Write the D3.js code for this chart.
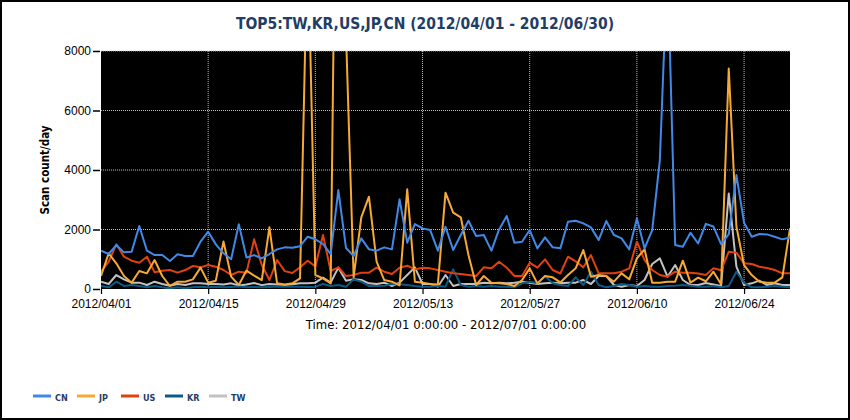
<!DOCTYPE html>
<html>
<head>
<meta charset="utf-8">
<script src="https://cdn.jsdelivr.net/npm/d3@7"></script>
<style>
  body { margin: 0; background: #fff; }
  svg { display: block; font-family: "DejaVu Sans Condensed", "Liberation Sans", sans-serif; }
</style>
</head>
<body>
<svg id="chart" width="850" height="420"></svg>
<script>
// chart data, one value per day 2012/04/01 .. 2012/06/30
const startDay = '2012/04/01'
const endDay = '2012/06/30'
const countries = ['CN', 'JP', 'US', 'KR', 'TW']
const colors = ['#4189e6', '#f7a935', '#e2400f', '#0b5a86', '#c2c2c2']

const cn = [1288, 1176, 1478, 1232, 1254, 2117, 1288, 1142, 1142, 941,
  1165, 1109, 1109, 1590, 1926, 1500, 1200, 1000, 2180, 1060,
  1140, 1030, 1176, 1333, 1400, 1390, 1440, 1758, 1670, 1512,
  1170, 3326, 1380, 1110, 1702, 1333, 1288, 1400, 1333, 3013,
  1557, 2184, 2038, 1982, 1288, 2094, 1310, 1814, 2296, 1781,
  1814, 1288, 2004, 2453, 1557, 1590, 1982, 1366, 1736, 1400,
  1366, 2262, 2296, 2206, 2072, 1646, 2285, 1814, 1702, 1333,
  2374, 1366, 1982, 4334, 11000, 1478, 1422, 1893, 1530, 2190,
  2100, 1510, 1840, 3830, 2229, 1758, 1848, 1836, 1758, 1669,
  1736]
const jp = [437, 1198, 862, 437, 213, 605, 526, 974, 437, 101,
  246, 246, 325, 717, 213, 280, 1600, 414, 134, 620,
  450, 300, 2072, 190, 150, 190, 358, 12000, 470, 358,
  190, 22000, 8600, 392, 2408, 3102, 918, 302, 246, 120,
  3349, 246, 213, 168, 150, 3237, 2565, 2408, 1142, 134,
  437, 213, 190, 168, 100, 302, 694, 190, 437, 392,
  220, 470, 694, 1310, 414, 470, 437, 246, 526, 325,
  1030, 1333, 213, 213, 246, 246, 952, 213, 380, 260,
  582, 160, 7414, 2100, 800, 470, 246, 213, 213, 392,
  2038]
const us = [582, 918, 1501, 1086, 952, 884, 1086, 560, 616, 638,
  549, 638, 773, 728, 806, 750, 638, 470, 582, 549,
  1669, 806, 302, 974, 600, 540, 730, 950, 760, 1814,
  605, 730, 437, 470, 549, 549, 717, 582, 504, 717,
  784, 660, 717, 694, 638, 582, 526, 504, 470, 437,
  728, 694, 918, 717, 437, 437, 884, 717, 997, 638,
  520, 1086, 930, 728, 1142, 526, 526, 526, 582, 694,
  1590, 974, 638, 470, 414, 582, 549, 549, 520, 470,
  700, 630, 1254, 1220, 862, 840, 750, 705, 638, 526,
  526]
const kr = [101, 56, 246, 101, 134, 101, 56, 101, 56, 22,
  56, 22, 56, 78, 56, 78, 60, 70, 80, 60,
  70, 60, 70, 80, 78, 78, 78, 70, 78, 168,
  100, 134, 78, 325, 246, 100, 100, 110, 168, 157,
  134, 100, 78, 78, 110, 78, 660, 134, 78, 100,
  78, 100, 78, 78, 56, 190, 246, 190, 437, 190,
  134, 100, 392, 134, 582, 134, 56, 100, 168, 134,
  78, 100, 78, 78, 100, 110, 134, 110, 78, 78,
  100, 56, 100, 580, 213, 56, 56, 78, 100, 78,
  56]
const tw = [246, 168, 470, 325, 213, 213, 134, 246, 168, 112,
  168, 134, 190, 190, 168, 168, 150, 190, 120, 150,
  200, 130, 170, 150, 134, 157, 190, 190, 213, 381,
  213, 717, 280, 325, 302, 190, 168, 213, 100, 213,
  470, 728, 168, 168, 78, 470, 100, 168, 168, 168,
  213, 190, 213, 190, 213, 246, 213, 168, 190, 213,
  190, 213, 213, 302, 168, 437, 437, 134, 78, 134,
  100, 302, 840, 1030, 414, 806, 302, 134, 134, 200,
  150, 100, 3214, 750, 134, 190, 280, 134, 190, 134,
  134]

const yTicks = [0, 2000, 4000, 6000, 8000]
const xTickLabels = ['2012/04/01', '2012/04/15', '2012/04/29', '2012/05/13', '2012/05/27', '2012/06/10', '2012/06/24']

const seriesValues = [cn, jp, us, kr, tw]
const drawOrder = [4, 3, 2, 1, 0]   // TW at the bottom, CN on top

const parseDay = d3.timeParse('%Y/%m/%d')
const fmtDay = d3.timeFormat('%Y/%m/%d')
const days = d3.timeDay.range(parseDay(startDay), d3.timeDay.offset(parseDay(endDay), 1))

const margin = { top: 51, left: 101, right: 60, bottom: 131 }
const width = 850, height = 420
const plotW = width - margin.left - margin.right
const plotH = height - margin.top - margin.bottom

const svg = d3.select('#chart')

// outer frame
svg.append('rect')
  .attr('x', 1).attr('y', 1)
  .attr('width', width - 2).attr('height', height - 2)
  .attr('fill', 'none').attr('stroke', '#000').attr('stroke-width', 2)

svg.append('text')
  .attr('x', 425).attr('y', 29)
  .attr('text-anchor', 'middle')
  .attr('font-size', '15.5px').attr('font-weight', 'bold')
  .attr('fill', '#1f3d66')
  .text('TOP5:TW,KR,US,JP,CN (2012/04/01 - 2012/06/30)')

const x = d3.scaleTime()
  .domain([parseDay(startDay), parseDay(endDay)])
  .range([0, plotW])
const y = d3.scaleLinear().domain([0, 8000]).range([plotH, 0])

const g = svg.append('g')
  .attr('transform', 'translate(' + margin.left + ',' + margin.top + ')')

g.append('rect')
  .attr('width', plotW).attr('height', plotH)
  .attr('fill', '#000')

g.append('clipPath').attr('id', 'plot-clip')
  .append('rect').attr('width', plotW).attr('height', plotH)

// dotted grid
g.selectAll('.hgrid')
  .data(yTicks.filter(d => d > 0))
  .enter().append('line')
  .attr('x1', 0).attr('x2', plotW)
  .attr('y1', d => y(d)).attr('y2', d => y(d))
  .attr('stroke', '#bdbdbd').attr('stroke-dasharray', '1,1')

g.selectAll('.vgrid')
  .data(xTickLabels.slice(1))
  .enter().append('line')
  .attr('x1', d => x(parseDay(d))).attr('x2', d => x(parseDay(d)))
  .attr('y1', 0).attr('y2', plotH)
  .attr('stroke', '#bdbdbd').attr('stroke-dasharray', '1,1')

const line = d3.line()
  .x((d, i) => x(days[i]))
  .y(d => y(d))

g.append('g').attr('clip-path', 'url(#plot-clip)')
  .selectAll('path')
  .data(drawOrder)
  .enter().append('path')
  .attr('d', i => line(seriesValues[i]))
  .attr('fill', 'none')
  .attr('stroke', i => colors[i])
  .attr('stroke-width', 2)
  .attr('stroke-linejoin', 'round')

// axes
const yAxis = g.append('g')
  .call(d3.axisLeft(y).tickValues(yTicks).tickFormat(d3.format('d')).tickSize(7).tickPadding(3))
yAxis.select('.domain').remove()
yAxis.selectAll('.tick line').attr('stroke-width', 1.5).attr('transform', 'translate(-1,0)')
yAxis.selectAll('text').attr('font-size', '12px').attr('fill', '#000')

const xAxis = g.append('g')
  .attr('transform', 'translate(0,' + plotH + ')')
  .call(d3.axisBottom(x).tickValues(xTickLabels.map(parseDay)).tickFormat(fmtDay).tickSize(5).tickPadding(5))
xAxis.select('.domain').remove()
xAxis.selectAll('.tick line').attr('stroke-width', 1.2)
xAxis.selectAll('text').attr('font-size', '12px').attr('fill', '#000')

svg.append('text')
  .attr('transform', 'translate(49,170) rotate(-90)')
  .attr('text-anchor', 'middle')
  .attr('font-size', '11.5px').attr('font-weight', 'bold')
  .text('Scan count/day')

svg.append('text')
  .attr('x', 446).attr('y', 329)
  .attr('text-anchor', 'middle')
  .attr('font-size', '13px')
  .text('Time: 2012/04/01 0:00:00 - 2012/07/01 0:00:00')

// legend
const legend = svg.selectAll('.legend')
  .data(countries)
  .enter().append('g')
  .attr('transform', (d, i) => 'translate(' + (33 + i * 44) + ',396)')
legend.append('line')
  .attr('x1', 0).attr('x2', 18)
  .attr('stroke', (d, i) => colors[i]).attr('stroke-width', 3)
legend.append('text')
  .attr('x', 22).attr('y', 5)
  .attr('font-size', '9px').attr('font-weight', 'bold')
  .attr('fill', '#1f3d66')
  .text(d => d)
</script>
</body>
</html>
